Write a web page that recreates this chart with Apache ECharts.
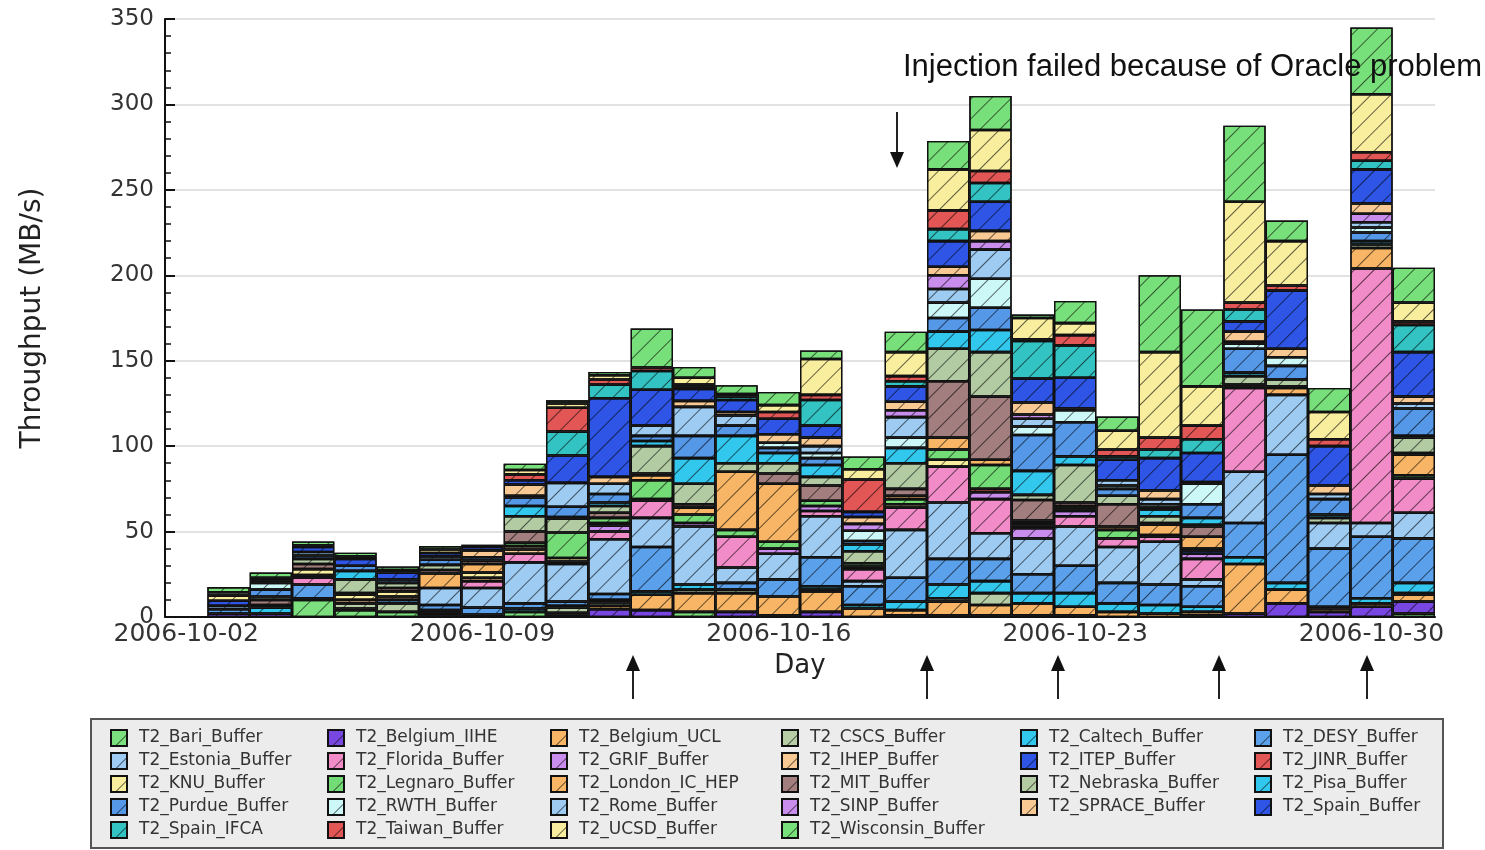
<!DOCTYPE html>
<html><head><meta charset="utf-8">
<script src="https://cdn.jsdelivr.net/npm/echarts@6/dist/echarts.min.js"></script>
<style>html,body{margin:0;padding:0;background:#fff}#c{width:1485px;height:850px}</style>
</head><body><div id="c"></div>
<script>
// Days 2006-10-02 .. 2006-10-31
const days = ['2006-10-02','2006-10-03','2006-10-04','2006-10-05','2006-10-06','2006-10-07','2006-10-08','2006-10-09','2006-10-10','2006-10-11','2006-10-12','2006-10-13','2006-10-14','2006-10-15','2006-10-16','2006-10-17','2006-10-18','2006-10-19','2006-10-20','2006-10-21','2006-10-22','2006-10-23','2006-10-24','2006-10-25','2006-10-26','2006-10-27','2006-10-28','2006-10-29','2006-10-30','2006-10-31'];

// Throughput (MB/s) per destination, one value per day
const T2_Bari_Buffer       = [0,0,0,10,4,3,0,0,3,1.5,0,0,3,0,0,0,0,0,0,0,0,0,0,0,0,0,0,0,0,2];
const T2_Belgium_IIHE      = [0,2,2,0,0,0,1,1.5,0,0,4.5,4,0,3,1,3,0,1,1,1,1,1,0,0,1,2,8,3,6,7];
const T2_Belgium_UCL       = [0,0,0,0,1,0,1.5,0,0,1,2,9,11,11,11,12,5,3,8,6,7,5,3,2,2,29,8,2,2,4];
const T2_CSCS_Buffer       = [0,0,0,0,3,5,0,0,0,3,2,0,2,2,0,1,0,0,2,7,0,0,0,0,0,0,0,0,0,1];
const T2_Caltech_Buffer    = [0,0,3.5,1,0,0,1.5,0,2,1,1.5,2,3,0,0,2,2,5,8,7,6,8,5,5,3,4,4,1,3,6];
const T2_DESY_Buffer       = [0,2.5,0,8,0,2,3,4,3,2.5,3.5,26,0,4,10,17,11,14,15,13,11,16,12,12,12,20,75,34,36,26];
const T2_Estonia_Buffer    = [0,2,0,0,0,0,10,11.5,24,22,32,17,34,9,15,24,3,28,33,15,21,23,21,25,4,30,35,15,8,15];
const T2_Florida_Buffer    = [0,0,0,4,0,0,0,4,5,0,4.5,10,0,18,0,3,7,13,21,20,0,6,5,3,12,49,0,0,149,20];
const T2_GRIF_Buffer       = [0,0,0,0,0,0,0,0,0,0,3.5,0,2,0,3,3,0,0,0,4,6,3,0,0,3,0,0,0,0,0];
const T2_IHEP_Buffer       = [0,0,0,1.5,2,2,0,2,2.5,1.5,1.5,1,0,0,0,0,0,0,0,0,0,0,0,0,0,0,0,0,0,0];
const T2_ITEP_Buffer       = [0,3,1.5,0,0,0,0,0,0,0,0,0,0,0,0,0,0,0,0,0,0,0,0,0,2,0,0,0,0,0];
const T2_JINR_Buffer       = [0,0,0,0,0,0,0,0,0,0,0,0,0,0,0,0,0,0,0,2,0,0,0,1,0,0,0,0,0,0];
const T2_KNU_Buffer        = [0,3,0,3.5,3,3,0,3,2,2,0,0,0,0,0,0,1.5,2,4,0,1.5,1,0,0,1,1,0,0,0,0];
const T2_Legnaro_Buffer    = [0,0,0,0,1,0,0,0,2,15,3,11,5,4,4,3,2,3,6,14,1.5,1,5,0,0,0,0,0,0,2];
const T2_London_IC_HEP     = [0,0,0,0,0,0,8.5,5,0,0,0,3,4,34,34,0,0,2,7,3,1.5,1,2,6,7,0,4,0,12,12];
const T2_MIT_Buffer        = [0,0,3,3,0,2,2,2,6.5,0,3,1,2,0,6,9,0,4,33,37,12,2,13,1,6,1,1,0,0,1];
const T2_Nebraska_Buffer   = [0,2,2,3,8,3,3,0,9,8,4,16,12,5,6,5,7,15,19,26,3,22,5,4,1,5,4,3,2,9];
const T2_Pisa_Buffer       = [0,0,0,0,5,0,0,0,6,1,2,3,15,16,6,7,4,9,10,13,14,5,0,4,4,2,0,2,2,1];
const T2_Purdue_Buffer     = [0,0,4,2,3,2,3,2,5,6,5,3,13,6,3,4,2,0,8,13,21,20,4,1,8,14,8,9,5,16];
const T2_RWTH_Buffer       = [0,0,4,0,0,0,0,0,1,0,0,0,0,0,3,3,6,6,9,17,5,7,2,2,12,3,5,0,3,0];
const T2_Rome_Buffer       = [0,0,0,2,0,0,2,0,0,14,6,6,17,6,0,4,0,12,8,17,4.5,1,3,3,1,1,0,3,3,3];
const T2_SINP_Buffer       = [0,0,0,0,0,0,0,0,0,0,0,0,0,0,0,0,4,4,8,5,2.5,0,0,0,0,0,0,0,5,0];
const T2_SPRACE_Buffer     = [0,0,1.5,0,0,0,0,4,6.5,0,4,0,3.5,2,5,5,4,5,5,6,7,0,0,5,0,6,5,5,6,4];
const T2_Spain_Buffer      = [0,0,1.5,3,4,4,2,2,2.5,16,46,21,7,7,9,7,3,9,15,17,14,18,12,19,17,6,34,23,20,26];
const T2_Spain_IFCA        = [0,0,0,0,0,1.5,0,0,0,14,8,11,1.5,2,0,15,0,3,7,11,22,19,2,5,8,7,0,0,5,16];
const T2_Taiwan_Buffer     = [0,0,0,0,0,0,0,0,3.5,14,3,2,1,0,4,3,19,3,11,7,1,6,4,7,8,4,3,4,5,2];
const T2_UCSD_Buffer       = [0,0,0,1,1.5,0,2,0,2.5,2.5,2.5,0,4,1.5,4,21,6,14,24,24,12.5,7,11,50,23,59,26,16,34,11];
const T2_Wisconsin_Buffer  = [0,3,3,2.2,2.1,2.1,2,1.3,3.7,1.8,1.9,22.8,6.3,5.1,7.7,5,7.5,12,16.6,20,2,13,8.3,45,45,44.5,12,14,39,20.4];

const seriesNames = ['T2_Bari_Buffer','T2_Belgium_IIHE','T2_Belgium_UCL','T2_CSCS_Buffer','T2_Caltech_Buffer','T2_DESY_Buffer',
  'T2_Estonia_Buffer','T2_Florida_Buffer','T2_GRIF_Buffer','T2_IHEP_Buffer','T2_ITEP_Buffer','T2_JINR_Buffer',
  'T2_KNU_Buffer','T2_Legnaro_Buffer','T2_London_IC_HEP','T2_MIT_Buffer','T2_Nebraska_Buffer','T2_Pisa_Buffer',
  'T2_Purdue_Buffer','T2_RWTH_Buffer','T2_Rome_Buffer','T2_SINP_Buffer','T2_SPRACE_Buffer','T2_Spain_Buffer',
  'T2_Spain_IFCA','T2_Taiwan_Buffer','T2_UCSD_Buffer','T2_Wisconsin_Buffer'];
const seriesValues = [T2_Bari_Buffer,T2_Belgium_IIHE,T2_Belgium_UCL,T2_CSCS_Buffer,T2_Caltech_Buffer,T2_DESY_Buffer,
  T2_Estonia_Buffer,T2_Florida_Buffer,T2_GRIF_Buffer,T2_IHEP_Buffer,T2_ITEP_Buffer,T2_JINR_Buffer,
  T2_KNU_Buffer,T2_Legnaro_Buffer,T2_London_IC_HEP,T2_MIT_Buffer,T2_Nebraska_Buffer,T2_Pisa_Buffer,
  T2_Purdue_Buffer,T2_RWTH_Buffer,T2_Rome_Buffer,T2_SINP_Buffer,T2_SPRACE_Buffer,T2_Spain_Buffer,
  T2_Spain_IFCA,T2_Taiwan_Buffer,T2_UCSD_Buffer,T2_Wisconsin_Buffer];

// styles
const seriesColors = ['#7be07d','#7846e0','#f7b565','#b6cda6','#32c8ee','#5aa0ea',
  '#9ecbf2','#f28cc8','#c98dee','#f8c992','#2e55e6','#e25656',
  '#f9ee9e','#74dc76','#f7b565','#a37e7e','#b3cba3','#32c8ee',
  '#5598e8','#cdf8f8','#9ecbf2','#c98dee','#f8c992','#2e55e6',
  '#33c3c3','#e25656','#f9ee9e','#78e07a'];

const chart = echarts.init(document.getElementById('c'), null, {renderer:'canvas'});
const FONT = 'DejaVu Sans';

const decal = { symbol:'rect', symbolSize:1, dashArrayX:[1,0], dashArrayY:[1,13], rotation:-Math.PI/4, color:'rgba(0,0,0,0.6)' };

const series = seriesNames.map((n,i)=>({
  name:n, type:'bar', stack:'all', barCategoryGap:'0%',
  data: seriesValues[i].map(v => v === 0 ? null : v),
  itemStyle:{ color: seriesColors[i], borderColor:'#111', borderWidth:1.3, decal: decal },
  emphasis:{disabled:true}
}));

const colX = [110, 327, 550, 781, 1020, 1254];
const legends = colX.map((x,c)=>({
  orient:'vertical', left:x, top:729, padding:0, itemWidth:16, itemHeight:16, itemGap:5,
  icon:'rect', selectedMode:false, z:5,
  data: seriesNames.filter((_,i)=>i%6===c),
  textStyle:{ fontFamily:FONT, fontSize:17, color:'#333', padding:[0,0,0,7] }
}));

function upArrow(x){
  return [
    { type:'line', z:100, shape:{x1:x,y1:699,x2:x,y2:664}, style:{stroke:'#222', lineWidth:2} },
    { type:'polygon', z:100, shape:{points:[[x-7,671],[x+7,671],[x,655]]}, style:{fill:'#111'} }
  ];
}

const graphics = [
  { type:'rect', z:0, shape:{x:91, y:719, width:1352, height:129}, style:{fill:'#ececec', stroke:'#555', lineWidth:2} },
  { type:'text', z:100, left:903, top:52, style:{text:'Injection failed because of Oracle problem', font:'31px "Liberation Sans"', fill:'#111'} },
  { type:'line', z:100, shape:{x1:897,y1:112,x2:897,y2:158}, style:{stroke:'#222', lineWidth:2} },
  { type:'polygon', z:100, shape:{points:[[890,152],[904,152],[897,168]]}, style:{fill:'#111'} },
  ...upArrow(633), ...upArrow(927), ...upArrow(1058), ...upArrow(1219), ...upArrow(1367)
];

chart.setOption({
  animation:false,
  backgroundColor:'#fff',
  grid:{ left:165, right:50, top:19, bottom:233, containLabel:false },
  xAxis:{
    type:'category', data:days, boundaryGap:true,
    axisLine:{ lineStyle:{color:'#111', width:2} },
    axisTick:{ show:false },
    axisLabel:{ interval:6, fontFamily:FONT, fontSize:25, color:'#333', margin:5 },
    name:'Day', nameLocation:'middle', nameGap:36,
    nameTextStyle:{ fontFamily:FONT, fontSize:26, color:'#222' }
  },
  yAxis:{
    type:'value', min:0, max:350, interval:50,
    axisLine:{ show:true, lineStyle:{color:'#111', width:2} },
    axisTick:{ show:true, inside:true, length:10, lineStyle:{color:'#111', width:2} },
    minorTick:{ show:true, splitNumber:5, length:6, lineStyle:{color:'#111', width:1.5} },
    splitLine:{ show:true, lineStyle:{color:'#e2e2e2', width:2} },
    axisLabel:{ fontFamily:FONT, fontSize:23, color:'#333', margin:11 },
    name:'Throughput (MB/s)', nameLocation:'middle', nameGap:118, nameRotate:90,
    nameTextStyle:{ fontFamily:FONT, fontSize:28, color:'#222' }
  },
  legend: legends,
  series: series,
  graphic: graphics
});
</script>
</body></html>
